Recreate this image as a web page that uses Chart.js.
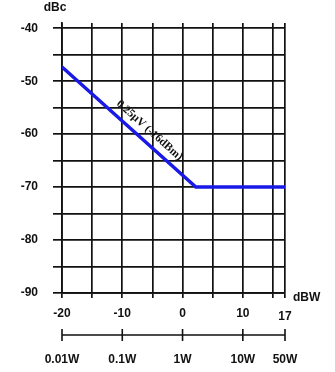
<!DOCTYPE html>
<html lang="en">

<head>
    <meta charset="UTF-8">
    <title>dBc vs dBW</title>
    <script src="https://cdn.jsdelivr.net/npm/chart.js"></script>
    <style>
        body {
            margin: 0;
            background-color: #ffffff;
        }
    </style>
</head>

<body>
    <canvas id="levelChart" width="335" height="372"></canvas>

    <script>
        // 曲线数据
        const powerDbw = [-20, 2.2, 17];
        const levelDbc = [-47.3, -70, -70];

        // 刻度
        const dbwTicks = [-20, -15, -10, -5, 0, 5, 10, 15, 17];
        const dbwLabels = ['-20', '', '-10', '', '0', '', '10', '', ''];
        const dbcTicks = [-90, -85, -80, -75, -70, -65, -60, -55, -50, -45, -40];
        const wattTicks = [-20, -10, 0, 10, 17];
        const wattLabels = ['0.01W', '0.1W', '1W', '10W', '50W'];

        const noteText = '0.25\u00b5V (-16dBm)';
        const labelFont = 'bold 12px "Liberation Sans", Arial, sans-serif';

        // 额外的文字和瓦特刻度
        const extrasPlugin = {
            id: 'extras',
            afterDraw(chart) {
                const ctx = chart.ctx;
                const x = chart.scales.x;
                const y = chart.scales.y;
                const area = chart.chartArea;
                ctx.save();
                ctx.fillStyle = '#111';
                ctx.font = labelFont;
                ctx.textBaseline = 'middle';

                ctx.textAlign = 'center';
                ctx.fillText('dBc', 55, 7.5);
                ctx.fillText('17', x.getPixelForValue(17), area.bottom + 24);
                ctx.textAlign = 'left';
                ctx.fillText('dBW', area.right + 8, area.bottom + 5);

                // 瓦特轴
                const wy = area.bottom + 42;
                ctx.strokeStyle = '#111';
                ctx.lineWidth = 1.6;
                ctx.beginPath();
                ctx.moveTo(x.getPixelForValue(wattTicks[0]), wy);
                ctx.lineTo(x.getPixelForValue(wattTicks[wattTicks.length - 1]), wy);
                wattTicks.forEach(v => {
                    const px = x.getPixelForValue(v);
                    ctx.moveTo(px, wy - 6);
                    ctx.lineTo(px, wy + 6);
                });
                ctx.stroke();
                ctx.textAlign = 'center';
                wattTicks.forEach((v, i) => {
                    ctx.fillText(wattLabels[i], x.getPixelForValue(v), wy + 25);
                });

                // 斜线上的标注
                const x0 = x.getPixelForValue(powerDbw[0]);
                const y0 = y.getPixelForValue(levelDbc[0]);
                const x1 = x.getPixelForValue(powerDbw[1]);
                const y1 = y.getPixelForValue(levelDbc[1]);
                ctx.translate(x.getPixelForValue(-5.5), y.getPixelForValue(-59.3));
                ctx.rotate(Math.atan2(y1 - y0, x1 - x0));
                ctx.font = 'bold 11.5px "Liberation Serif", "Times New Roman", serif';
                ctx.fillText(noteText, 0, 0);
                ctx.restore();
            }
        };

        const ctx = document.getElementById('levelChart').getContext('2d');
        new Chart(ctx, {
            type: 'line',
            data: {
                datasets: [{
                    data: powerDbw.map((p, i) => ({ x: p, y: levelDbc[i] })),
                    borderColor: '#1a1ae6',
                    borderWidth: 3.5,
                    pointRadius: 0,
                    tension: 0
                }]
            },
            options: {
                responsive: false,
                animation: false,
                layout: {
                    padding: { top: 23, right: 50, bottom: 50, left: 0 }
                },
                plugins: {
                    legend: { display: false },
                    tooltip: { enabled: false }
                },
                scales: {
                    x: {
                        type: 'linear',
                        min: -20,
                        max: 17,
                        afterBuildTicks: scale => {
                            scale.ticks = dbwTicks.map(v => ({ value: v }));
                        },
                        afterFit: scale => { scale.height = 29; },
                        ticks: {
                            autoSkip: false,
                            maxRotation: 0,
                            padding: 8,
                            color: '#111',
                            font: { family: '"Liberation Sans", Arial, sans-serif', size: 12, weight: 'bold' },
                            callback: (value, index) => dbwLabels[index]
                        },
                        grid: { color: '#111', lineWidth: 1.7, tickLength: 5 },
                        border: { color: '#111', width: 1.7 }
                    },
                    y: {
                        min: -90,
                        max: -39,
                        afterBuildTicks: scale => {
                            scale.ticks = dbcTicks.map(v => ({ value: v }));
                        },
                        afterFit: scale => { scale.width = 62; },
                        ticks: {
                            autoSkip: false,
                            padding: 15,
                            color: '#111',
                            font: { family: '"Liberation Sans", Arial, sans-serif', size: 12, weight: 'bold' },
                            callback: value => (value % 10 === 0 ? value : '')
                        },
                        grid: { color: '#111', lineWidth: 1.7, tickLength: 9 },
                        border: { color: '#111', width: 1.7 }
                    }
                }
            },
            plugins: [extrasPlugin]
        });
    </script>

</body>

</html>
